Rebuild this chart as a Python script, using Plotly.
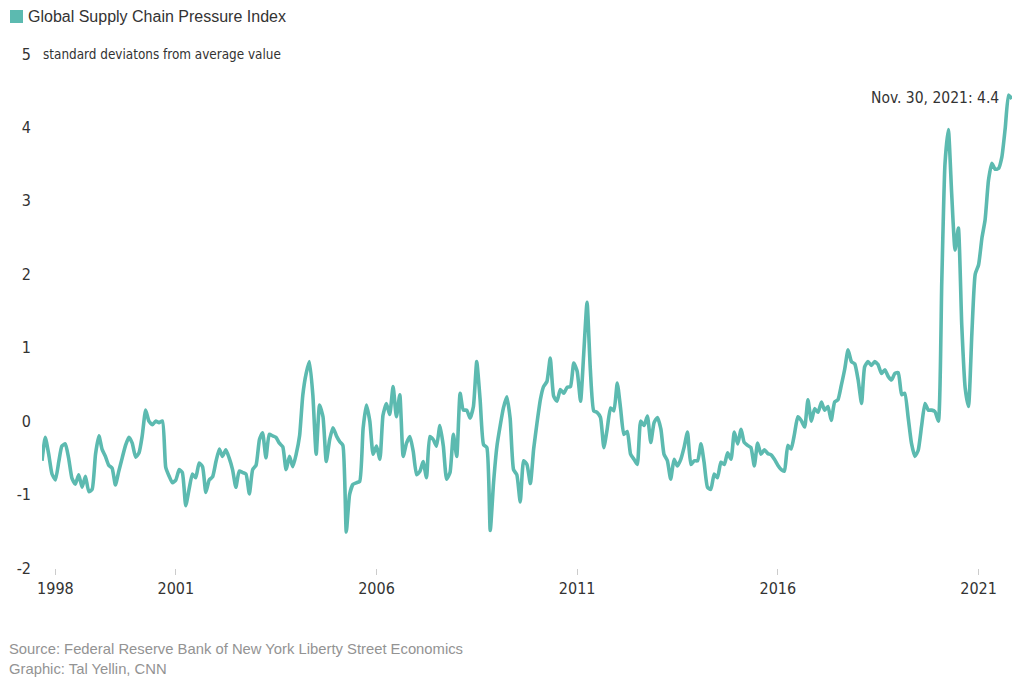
import pandas as pd
import plotly.graph_objects as go

# ---- data (monthly Global Supply Chain Pressure Index, Sep 1997 - Nov 2021) ----
start_month = "1997-09-01"
gscpi = [
    # 1997 Sep-Dec
    -0.54, -0.22, -0.45, -0.72,
    # 1998
    -0.80, -0.55, -0.34, -0.31, -0.50, -0.78, -0.86, -0.73, -0.90, -0.75, -0.96, -0.93,
    # 1999
    -0.45, -0.20, -0.38, -0.48, -0.60, -0.64, -0.87, -0.68, -0.50, -0.33, -0.22, -0.30,
    # 2000
    -0.49, -0.43, -0.20, 0.15, 0.00, -0.05, 0.00, -0.02, 0.00, -0.63, -0.75, -0.84,
    # 2001
    -0.80, -0.66, -0.70, -1.15, -0.93, -0.72, -0.77, -0.57, -0.62, -0.97, -0.80, -0.76,
    # 2002
    -0.55, -0.38, -0.48, -0.39, -0.50, -0.66, -0.90, -0.68, -0.70, -0.72, -0.99, -0.66,
    # 2003
    -0.60, -0.25, -0.16, -0.50, -0.18, -0.20, -0.22, -0.30, -0.35, -0.66, -0.48, -0.62,
    # 2004
    -0.45, -0.20, 0.35, 0.65, 0.81, 0.35, -0.45, 0.22, 0.06, -0.55, -0.25, -0.09,
    # 2005
    -0.20, -0.28, -0.33, -1.51, -1.00, -0.86, -0.84, -0.82, -0.10, 0.22, 0.00, -0.45,
    # 2006
    -0.34, -0.52, 0.08, 0.24, 0.09, 0.47, 0.06, 0.36, -0.48, -0.30, -0.21, -0.41,
    # 2007
    -0.73, -0.68, -0.55, -0.77, -0.21, -0.25, -0.34, -0.06, -0.34, -0.79, -0.70, -0.18,
    # 2008
    -0.48, 0.38, 0.15, 0.15, 0.04, 0.20, 0.81, 0.29, -0.32, -0.36, -1.49, -0.84,
    # 2009
    -0.34, -0.05, 0.18, 0.33, 0.04, -0.66, -0.73, -1.10, -0.54, -0.59, -0.85, -0.38,
    # 2010
    -0.02, 0.30, 0.47, 0.54, 0.86, 0.34, 0.27, 0.43, 0.38, 0.46, 0.47, 0.79,
    # 2011
    0.68, 0.27, 0.90, 1.62, 0.70, 0.14, 0.12, 0.05, -0.36, -0.11, 0.18, 0.14,
    # 2012
    0.52, 0.16, -0.18, -0.14, -0.45, -0.52, -0.59, 0.00, -0.06, 0.07, -0.29, -0.02,
    # 2013
    0.05, -0.11, -0.45, -0.54, -0.79, -0.52, -0.61, -0.52, -0.35, -0.15, -0.59, -0.54,
    # 2014
    -0.54, -0.31, -0.56, -0.90, -0.93, -0.72, -0.77, -0.56, -0.59, -0.43, -0.52, -0.15,
    # 2015
    -0.31, -0.11, -0.29, -0.33, -0.36, -0.61, -0.30, -0.45, -0.39, -0.44, -0.46, -0.52,
    # 2016
    -0.60, -0.66, -0.68, -0.33, -0.38, -0.17, 0.06, 0.01, -0.08, 0.29, 0.00, 0.17,
    # 2017
    0.12, 0.26, 0.15, 0.20, 0.01, 0.26, 0.29, 0.49, 0.71, 0.97, 0.81, 0.78,
    # 2018
    0.56, 0.24, 0.74, 0.81, 0.76, 0.81, 0.77, 0.65, 0.70, 0.61, 0.56, 0.65,
    # 2019
    0.66, 0.36, 0.38, 0.05, -0.30, -0.48, -0.40, -0.07, 0.24, 0.15, 0.15, 0.13,
    # 2020
    0.00, 1.90, 3.50, 3.97, 3.10, 2.33, 2.63, 1.30, 0.45, 0.20, 1.20, 2.00,
    # 2021 Jan-Nov
    2.13, 2.50, 2.74, 3.28, 3.51, 3.43, 3.44, 3.60, 4.00, 4.44, 4.39,
]

y_ticks = [-2, -1, 0, 1, 2, 3, 4, 5]
y_tick_labels = ["-2", "-1", "0", "1", "2", "3", "4", "5"]
x_tick_years = [1998, 2001, 2006, 2011, 2016, 2021]
x_tick_labels = [str(y) for y in x_tick_years]

series_name = "Global Supply Chain Pressure Index"
unit_label = "standard deviatons from average value"
last_label = "Nov. 30, 2021: 4.4"
source_lines = [
    "Source: Federal Reserve Bank of New York Liberty Street Economics",
    "Graphic: Tal Yellin, CNN",
]

TEAL = "#5cbab0"
NARROW = "Liberation Sans Narrow, DejaVu Sans Condensed, Arial Narrow, sans-serif"
SANS = "Liberation Sans, Arial, sans-serif"

dates = pd.date_range(start_month, periods=len(gscpi), freq="MS")

fig = go.Figure()

# gridlines
for v in y_ticks[:-1]:
    fig.add_hline(y=v, line_color="#6b6b6b" if v == 0 else "#dddddd",
                  line_width=1, layer="below")

fig.add_trace(go.Scatter(
    x=dates, y=gscpi, mode="lines",
    line=dict(color=TEAL, width=3.6, shape="spline", smoothing=0.5),
    hoverinfo="skip", showlegend=False,
))

fig.update_layout(
    width=1008, height=676,
    margin=dict(l=34, r=4, t=46, b=116),
    paper_bgcolor="white", plot_bgcolor="white",
    xaxis=dict(
        type="date",
        range=[dates[0], dates[-1]],
        tickvals=[pd.Timestamp(f"{y}-01-01") for y in x_tick_years],
        ticktext=x_tick_labels,
        ticks="outside", ticklen=6, tickcolor="#cccccc",
        showgrid=False, zeroline=False, showline=False,
        tickfont=dict(family=NARROW, size=16, color="#333333"),
    ),
    yaxis=dict(
        range=[y_ticks[0], y_ticks[-1]],
        tickvals=y_ticks, ticktext=y_tick_labels,
        showgrid=False, zeroline=False, showline=False,
        ticks="", ticklabelstandoff=10,
        tickfont=dict(family=NARROW, size=16, color="#333333"),
    ),
    shapes=[dict(type="rect", xref="paper", yref="paper",
                 x0=-0.0330, x1=-0.0196, y0=1.0603, y1=1.0856,
                 fillcolor=TEAL, line=dict(width=0))],
)

fig.add_annotation(text=series_name, xref="paper", yref="paper",
                   x=-0.0165, y=1.073, xanchor="left", yanchor="middle",
                   showarrow=False, font=dict(family=SANS, size=16, color="#333333"))
fig.add_annotation(text=unit_label, xref="paper", yref="y",
                   x=-0.001, y=y_ticks[-1], xanchor="left", yanchor="middle",
                   showarrow=False, font=dict(family="DejaVu Sans Condensed, " + NARROW, size=13.4, color="#333333"))
fig.add_annotation(text=last_label, xref="x", yref="y",
                   x=dates[-1], y=4.4, xanchor="right", yanchor="middle", xshift=-11,
                   showarrow=False, font=dict(family=NARROW, size=15.5, color="#333333"))
for i, line in enumerate(source_lines):
    fig.add_annotation(text=line, xref="paper", yref="paper",
                       x=-0.0365, y=-0.1576 - 0.039 * i, xanchor="left", yanchor="middle",
                       showarrow=False, font=dict(family=SANS, size=14.8, color="#939393"))

fig.write_html("out.html")
